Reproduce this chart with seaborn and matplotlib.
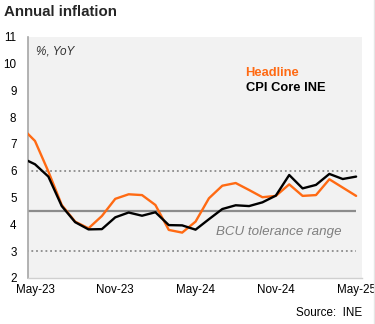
import matplotlib
matplotlib.use("Agg")
import matplotlib.pyplot as plt
import seaborn as sns
import pandas as pd

# ---- data ----
months = ["Apr-23", "May-23", "Jun-23", "Jul-23", "Aug-23", "Sep-23", "Oct-23", "Nov-23",
          "Dec-23", "Jan-24", "Feb-24", "Mar-24", "Apr-24", "May-24", "Jun-24", "Jul-24",
          "Aug-24", "Sep-24", "Oct-24", "Nov-24", "Dec-24", "Jan-25", "Feb-25", "Mar-25",
          "Apr-25", "May-25"]
headline = [7.61, 7.11, 5.97, 4.72, 4.10, 3.85, 4.31, 4.95, 5.12, 5.09, 4.72, 3.79, 3.69,
            4.10, 4.97, 5.44, 5.54, 5.28, 5.01, 5.06, 5.49, 5.06, 5.09, 5.68, 5.37, 5.06]
core = [6.48, 6.24, 5.78, 4.68, 4.08, 3.81, 3.82, 4.26, 4.44, 4.32, 4.45, 3.97, 3.96,
        3.80, 4.19, 4.57, 4.71, 4.68, 4.82, 5.07, 5.84, 5.34, 5.47, 5.88, 5.69, 5.78]
tolerance_low = 3.0
tolerance_high = 6.0
target = 4.5
x_tick_labels = ["May-23", "Nov-23", "May-24", "Nov-24", "May-25"]
y_ticks = [2, 3, 4, 5, 6, 7, 8, 9, 10, 11]

sns.set_theme(style="white")
plt.rcParams["font.family"] = ["Liberation Sans", "DejaVu Sans"]

pos = list(range(-1, len(months) - 1))  # May-23 -> 0
df = pd.DataFrame({"pos": pos, "month": months, "Headline": headline, "Core": core})

W, H = 375, 324
fig = plt.figure(figsize=(W / 100, H / 100), dpi=100)
fig.patch.set_facecolor("white")

left_px, right_px, top_px, bot_px = 28.3, 362.0, 36.7, 277.9
ax = fig.add_axes([left_px / W, 1 - bot_px / H, (right_px - left_px) / W, (bot_px - top_px) / H])
ax.set_facecolor("#F2F2F2")

grey = "#8C8C8C"
ax.hlines([tolerance_high, tolerance_low], pos[0], pos[-1], colors=grey, lw=1.3,
          linestyles=(0, (1.0, 1.6)), zorder=2)
ax.hlines([target], pos[0], pos[-1], colors=grey, lw=1.6, zorder=2)

orange = "#FF6A13"
sns.lineplot(data=df, x="pos", y="Headline", ax=ax, color=orange, lw=1.7, zorder=3)
sns.lineplot(data=df, x="pos", y="Core", ax=ax, color="black", lw=1.7, zorder=4)

ax.set_xlim(-0.5, 24.44)
ax.set_ylim(2, 11)
ax.set_yticks(y_ticks)
ax.set_yticklabels([str(v) for v in y_ticks])
ax.set_xticks([df.loc[df["month"] == m, "pos"].iloc[0] for m in x_tick_labels])
ax.set_xticklabels(x_tick_labels)
ax.set_xlabel("")
ax.set_ylabel("")
ax.tick_params(axis="y", length=0, pad=8.5, labelsize=8.4, colors="black")
ax.tick_params(axis="x", length=0, pad=4.5, labelsize=8.4, colors="black")

for s in ["top", "right"]:
    ax.spines[s].set_visible(False)
ax.spines["left"].set_color("#A6A6A6")
ax.spines["left"].set_linewidth(1.2)
ax.spines["bottom"].set_color("#D0D0D0")
ax.spines["bottom"].set_linewidth(1.0)

def ftext(x, y, s, **kw):
    fig.text(x / W, 1 - y / H, s, **kw)

ftext(4, 15.7, "Annual inflation", fontsize=10.8, fontweight="bold", va="baseline", ha="left")
ftext(36, 55, "%, YoY", fontsize=8.5, style="italic", color="#333333", va="baseline")
ftext(245.6, 76, "Headline", fontsize=9.3, fontweight="bold", color=orange, va="baseline")
ftext(245.6, 90.7, "CPI Core INE", fontsize=9.3, fontweight="bold", color="black", va="baseline")
ftext(216, 235, "BCU tolerance range", fontsize=9.6, style="italic", color="#7F7F7F", va="baseline")
ftext(362, 316, "Source:  INE", fontsize=8.4, color="black", va="baseline", ha="right")

fig.add_artist(plt.Line2D([0.997, 0.997], [0, 1], transform=fig.transFigure, color="#E6E6E6", lw=1))

fig.savefig("out.png", dpi=100)
